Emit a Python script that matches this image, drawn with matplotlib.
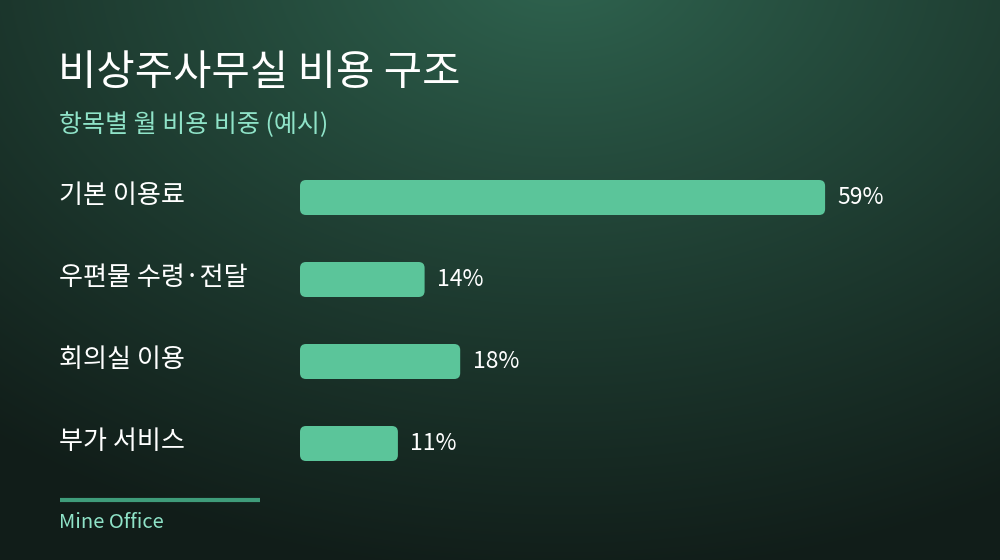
import numpy as np
import matplotlib
matplotlib.use("Agg")
import matplotlib.pyplot as plt
from matplotlib.patches import FancyBboxPatch
from matplotlib import transforms

plt.rcParams["font.family"] = ["Noto Sans CJK KR", "DejaVu Sans"]

title = "비상주사무실 비용 구조"
subtitle = "항목별 월 비용 비중 (예시)"
categories = ["기본 이용료", "우편물 수령·전달", "회의실 이용", "부가 서비스"]
shares = [59, 14, 18, 11]
footer = "Mine Office"

BAR = "#5bc59a"
MINT = "#8fe3c8"

W, H = 1000, 560
fig = plt.figure(figsize=(W / 100, H / 100), dpi=100)

# background: radial glow near top centre fading to dark green
bg = fig.add_axes([0, 0, 1, 1])
yy, xx = np.mgrid[0:H, 0:W]
d = np.sqrt(((xx - 560) / 900.0) ** 2 + ((yy + 40) / 620.0) ** 2)
t = np.clip(d, 0, 1) ** 0.9
top = np.array([0x30, 0x66, 0x51]) / 255
bot = np.array([0x11, 0x1d, 0x19]) / 255
img = top[None, None, :] * (1 - t[..., None]) + bot[None, None, :] * t[..., None]
bg.imshow(img, extent=[0, W, H, 0], aspect="auto")
bg.set_xlim(0, W)
bg.set_ylim(H, 0)
bg.axis("off")

bg.text(58, 73, title, color="white", fontsize=30, fontweight="medium", va="center", ha="left")
bg.text(59, 125, subtitle, color=MINT, fontsize=18, va="center", ha="left")
bg.plot([60, 260], [500, 500], color="#3f9c7a", lw=3, solid_capstyle="butt")
bg.text(59, 522, footer, color=MINT, fontsize=14.5, va="center", ha="left")

# bar axes: x in percent, y in rows
px_per_pct = 8.9
row_px = 82
x0, x1 = 300, 950
top_px = 197.5 - row_px / 2
ax = fig.add_axes([x0 / W, 1 - (top_px + row_px * 4) / H, (x1 - x0) / W, row_px * 4 / H])
ax.set_xlim(0, (x1 - x0) / px_per_pct)
ax.set_ylim(3.5, -0.5)
ax.axis("off")

bh = 35 / row_px
r = 6 / px_per_pct
aspect = px_per_pct / row_px
lab_tr = transforms.blended_transform_factory(fig.transFigure, ax.transData)
for i, (cat, v) in enumerate(zip(categories, shares)):
    ax.add_patch(FancyBboxPatch((0, i - bh / 2), v, bh,
                                boxstyle=f"round,pad=0,rounding_size={r}",
                                mutation_aspect=aspect, fc=BAR, ec="none"))
    ax.annotate(f"{v}%", (v, i), xytext=(9, 0), textcoords="offset points",
                color="white", fontsize=16.5, va="center", ha="left")
    ax.text(59 / W, i - 0.03, cat, transform=lab_tr, color="white",
            fontsize=18.8, va="center", ha="left")

fig.savefig("out.png", dpi=100)
